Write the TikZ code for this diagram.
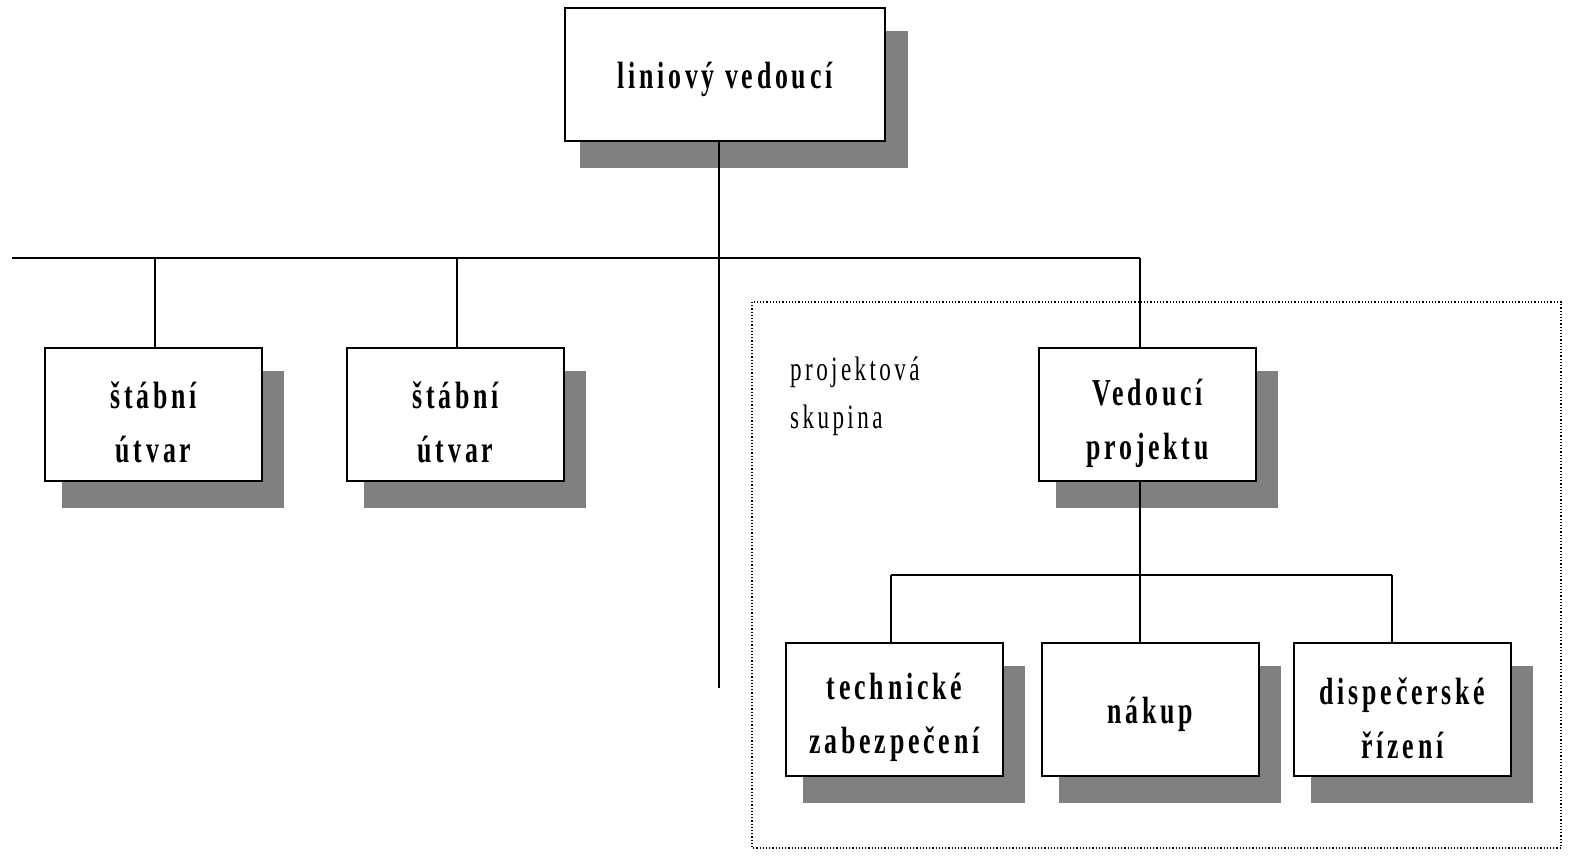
\documentclass[tikz,border=0pt]{standalone}
\usepackage{fontspec}
\setmainfont{Liberation Serif}[FakeStretch=0.68,LetterSpace=10]
\usetikzlibrary{shadows}
\newcommand{\lowerby}[2]{\raisebox{-#1}[\height][\depth]{#2}}
\begin{document}
\begin{tikzpicture}[x=1pt,y=-1pt,
  orgbox/.style={draw=black,line width=2.2pt,fill=white,minimum height=133pt,
    align=center,inner sep=0pt,
    font=\fontsize{38}{54}\selectfont\bfseries,
    general shadow={fill={rgb,255:red,128;green,128;blue,128},shadow scale=1.025,shadow xshift=19pt,shadow yshift=-24.5pt}},
  smallbox/.style={orgbox,minimum width=217pt},
  conn/.style={line width=2pt},
  bus/.style={line width=2.8pt}]
\useasboundingbox (0,0) rectangle (1585,857);
% project group frame
\draw[dotted,line width=1.2pt] (752,302) rectangle (1561,848);
\node[align=left,anchor=north west,inner sep=0pt,font=\fontsize{34}{48}\selectfont] (pg) at (790,357) {projektová\\skupina};
% nodes
\node[orgbox,minimum width=320pt] (top) at (725,74.5) {\lowerby{5pt}{liniový vedoucí}};
\node[smallbox] (s1) at (153.5,414.5) {\rule{0pt}{42pt}štábní\\útvar};
\node[smallbox] (s2) at (455.5,414.5) {\rule{0pt}{42pt}štábní\\útvar};
\node[smallbox] (vp) at (1147.5,414.5) {\rule{0pt}{44pt}Vedoucí\\projektu};
\node[smallbox] (tz) at (894.5,709.5) {\rule{0pt}{42pt}technické\\zabezpečení};
\node[smallbox] (nk) at (1150.5,709.5) {\lowerby{5pt}{nákup}};
\node[smallbox] (dr) at (1402.5,709.5) {\rule{0pt}{44pt}dispečerské\\řízení};
% coordinates
\coordinate (busl) at (12,258);
\coordinate (busr) at (1140,258);
\coordinate (tr) at (719,258);
\coordinate (trend) at (719,688);
\coordinate (j1) at (155,258);
\coordinate (j2) at (457,258);
\coordinate (pb) at (1140,575);
\coordinate (pl) at (891,575);
\coordinate (pr) at (1392,575);
% connectors
\draw[bus] (busl) -- (busr);
\draw[conn] (tr |- top.south) -- (trend);
\draw[conn] (j1) -- (j1 |- s1.north);
\draw[conn] (j2) -- (j2 |- s2.north);
\draw[conn] (busr) -- (busr |- vp.north);
\draw[conn] (busr |- vp.south) -- (busr |- nk.north);
\draw[bus] (pl) -- (pr);
\draw[conn] (pl) -- (pl |- tz.north);
\draw[conn] (pr) -- (pr |- dr.north);
\end{tikzpicture}
\end{document}
